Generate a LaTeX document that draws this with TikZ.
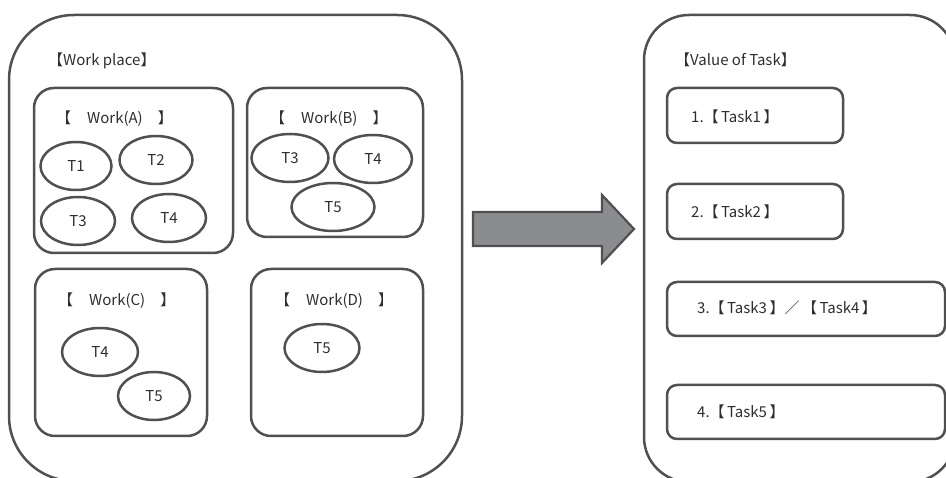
\documentclass[tikz,border=0pt]{standalone}
\usepackage{fontspec}
\setmainfont{Noto Sans CJK KR}
\usetikzlibrary{shapes.geometric}
\definecolor{lc}{HTML}{505050}
\definecolor{tc}{HTML}{2E2E2E}
\definecolor{af}{HTML}{8B8C8F}
\tikzset{
  outer/.style={draw=lc, line width=2.5pt, rounded corners=#1, inner sep=0pt},
  wbox/.style={draw=lc, line width=2.5pt, rounded corners=20pt, inner sep=0pt},
  tbox/.style={draw=lc, line width=2.5pt, rounded corners=10pt, inner sep=0pt},
  tk/.style={draw=lc, line width=2.5pt, ellipse, inner sep=0pt, minimum height=48pt, text=tc, font=\fontsize{15}{17}\selectfont},
  lbl/.style={text=tc, inner sep=0pt, font=\fontsize{15}{17}\selectfont},
  blockarrow/.style={draw=lc, fill=af, line width=2.2pt, line join=miter},
}
\begin{document}
\begin{tikzpicture}[x=1pt,y=-1pt]
\useasboundingbox (0,0) rectangle (946,478);
\clip (0,0) rectangle (946,478);
% outer containers
\node[outer=65pt, minimum width=453pt, minimum height=466pt] (wp) at (235.5,248) {};
\node[outer=45pt, minimum width=311pt, minimum height=467pt] (vt) at (799.5,248.5) {};
\node[lbl, anchor=west] (wpl) at (48,61) {【Work place】};
\node[lbl, anchor=west] (vtl) at (675,60) {【Value of Task】};
% work boxes
\node[wbox, minimum width=199pt, minimum height=165pt] (wa) at (133.5,170.5) {};
\node[wbox, minimum width=176pt, minimum height=149pt] (wb) at (335,162.5) {};
\node[wbox, minimum width=172pt, minimum height=167pt] (wc) at (121,352.5) {};
\node[wbox, minimum width=172pt, minimum height=167pt] (wd) at (337,352.5) {};
\node[lbl, anchor=west] (wal) at (56,119) {【\hspace{16pt}Work(A)\hspace{15pt}】};
\node[lbl, anchor=west] (wbl) at (270,119) {【\hspace{16pt}Work(B)\hspace{15pt}】};
\node[lbl, anchor=west] (wcl) at (58,301) {【\hspace{16pt}Work(C)\hspace{15pt}】};
\node[lbl, anchor=west] (wdl) at (275,301) {【\hspace{16pt}Work(D)\hspace{15pt}】};
% tasks in A
\node[tk, minimum width=71pt] (a1) at (76,166) {T1};
\node[tk, minimum width=73pt] (a2) at (156,160) {T2};
\node[tk, minimum width=74pt] (a3) at (78,221) {T3};
\node[tk, minimum width=74pt] (a4) at (169,218) {T4};
% tasks in B
\node[tk, minimum width=77pt] (b3) at (290,158) {T3};
\node[tk, minimum width=78pt] (b4) at (373,159) {T4};
\node[tk, minimum width=83pt] (b5) at (333,207) {T5};
% tasks in C
\node[tk, minimum width=76pt] (c4) at (100,352) {T4};
\node[tk, minimum width=72pt] (c5) at (154,396) {T5};
% task in D
\node[tk, minimum width=75pt] (d5) at (322,348) {T5};
% block arrow
\draw[blockarrow] (473,212) -- (602,212) -- (602,195) -- (634,229) -- (602,263) -- (602,246) -- (473,246) -- cycle;
% value boxes
\node[tbox, minimum width=176pt, minimum height=55pt] (v1) at (755,115.5) {};
\node[tbox, minimum width=176pt, minimum height=55pt] (v2) at (755,211.5) {};
\node[tbox, minimum width=278pt, minimum height=54pt] (v3) at (806,309) {};
\node[tbox, minimum width=278pt, minimum height=54pt] (v4) at (806,412) {};
\node[lbl, anchor=west] (v1l) at (691,117) {1.【\,Task1\,】};
\node[lbl, anchor=west] (v2l) at (691,212) {2.【\,Task2\,】};
\node[lbl, anchor=west] (v3l) at (697,308) {3.【\,Task3\,】／\,【\,Task4\,】};
\node[lbl, anchor=west] (v4l) at (697,412) {4.【\,Task5\,】};
\end{tikzpicture}
\end{document}
